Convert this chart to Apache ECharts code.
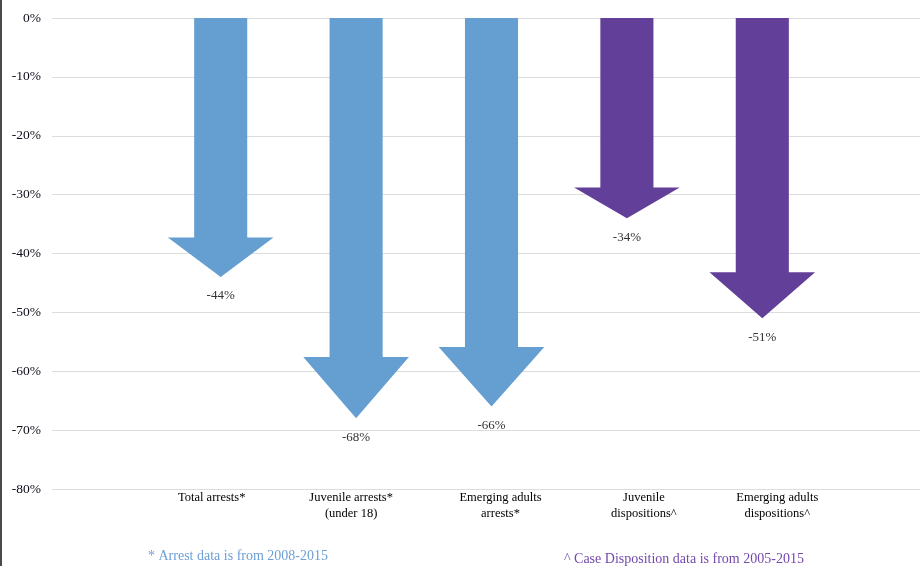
<!DOCTYPE html>
<html>
<head>
<meta charset="utf-8">
<script src="https://cdn.jsdelivr.net/npm/echarts@6/dist/echarts.min.js"></script>
<style>
  html, body { margin: 0; padding: 0; background: #fff; }
  #chart { width: 920px; height: 566px; }
</style>
</head>
<body>
<div id="chart"></div>
<script>
// Percent change by measure
const categories = [
  'Total arrests*',
  'Juvenile arrests*\n(under 18)',
  'Emerging adults\narrests*',
  'Juvenile\ndispositions^',
  'Emerging adults\ndispositions^'
];
const arrestValues = [-44, -68, -66];          // first three categories
const dispositionValues = [-34, -51];           // last two categories
const yTicks = [0, -10, -20, -30, -40, -50, -60, -70, -80];
const arrestNote = '* Arrest data is from 2008-2015';
const dispositionNote = '^ Case Disposition data is from 2005-2015';

const BLUE = '#659fd1';
const PURPLE = '#623f99';
const SERIF = '"Liberation Serif", "DejaVu Serif", serif';

// horizontal nudge (px) of each category caption relative to its arrow
const captionNudge = [-9, -5, 9, 17, 15];

// Block arrow pointing down from 0 to the value; head height scales with length
function arrowRenderer(color) {
  return function (params, api) {
    const idx = api.value(0);
    const val = api.value(1);
    const top = api.coord([idx, 0]);
    const tip = api.coord([idx, val]);
    const band = api.size([1, 0])[0];
    const cx = tip[0];
    const shaftHalf = band * 0.196;
    const headHalf = band * 0.39;
    const len = tip[1] - top[1];
    const headH = len * 0.153;
    const baseY = tip[1] - headH;
    return {
      type: 'group',
      children: [
        {
          type: 'polygon',
          shape: {
            points: [
              [cx - shaftHalf, top[1]],
              [cx + shaftHalf, top[1]],
              [cx + shaftHalf, baseY],
              [cx + headHalf, baseY],
              [cx, tip[1]],
              [cx - headHalf, baseY],
              [cx - shaftHalf, baseY]
            ]
          },
          style: { fill: color }
        },
        {
          type: 'text',
          x: cx,
          y: tip[1] + 19,
          style: {
            text: val + '%',
            fill: '#333',
            font: '13px ' + SERIF,
            align: 'center',
            verticalAlign: 'middle'
          }
        }
      ]
    };
  };
}

const arrestData = arrestValues.map((v, i) => [i, v]);
const dispositionData = dispositionValues.map((v, i) => [arrestValues.length + i, v]);

const categoryItems = categories.map((c, i) => {
  const n = captionNudge[i];
  return {
    value: c,
    textStyle: { padding: n >= 0 ? [0, 0, 0, 2 * n] : [0, -2 * n, 0, 0] }
  };
});

const chart = echarts.init(document.getElementById('chart'), null, { renderer: 'canvas' });
chart.setOption({
  animation: false,
  backgroundColor: '#fff',
  grid: [
    { left: 52, right: 0, top: 18, bottom: 77 },
    { left: 153, right: 90, top: 18, bottom: 77 }
  ],
  xAxis: [
    { gridIndex: 0, type: 'value', show: false, min: 0, max: 1 },
    {
      gridIndex: 1,
      type: 'category',
      data: categoryItems,
      axisLine: { show: false },
      axisTick: { show: false },
      axisLabel: {
        interval: 0,
        margin: 1,
        color: '#000',
        fontFamily: SERIF,
        fontSize: 12.5,
        lineHeight: 16
      }
    }
  ],
  yAxis: [
    {
      gridIndex: 0,
      type: 'value',
      min: -80,
      max: 0,
      interval: 10,
      axisLine: { show: false },
      axisTick: { show: false },
      splitLine: { lineStyle: { color: '#dcdcdc', width: 1 } },
      axisLabel: {
        margin: 11,
        color: '#0d0d1a',
        fontFamily: SERIF,
        fontSize: 13.5,
        customValues: yTicks,
        formatter: v => v + '%'
      }
    },
    { gridIndex: 1, type: 'value', min: -80, max: 0, show: false }
  ],
  series: [
    {
      type: 'custom',
      name: 'Arrests',
      xAxisIndex: 1,
      yAxisIndex: 1,
      renderItem: arrowRenderer(BLUE),
      data: arrestData
    },
    {
      type: 'custom',
      name: 'Dispositions',
      xAxisIndex: 1,
      yAxisIndex: 1,
      renderItem: arrowRenderer(PURPLE),
      data: dispositionData
    }
  ],
  graphic: [
    {
      type: 'rect',
      left: 0,
      top: 0,
      shape: { width: 2, height: 566 },
      style: { fill: '#4a4a4a' }
    },
    {
      type: 'text',
      left: 148,
      top: 549,
      style: { text: arrestNote, fill: '#6c9fd6', font: '14px ' + SERIF }
    },
    {
      type: 'text',
      left: 564,
      top: 552,
      style: { text: dispositionNote, fill: '#7349ad', font: '14px ' + SERIF }
    }
  ]
});
</script>
</body>
</html>
